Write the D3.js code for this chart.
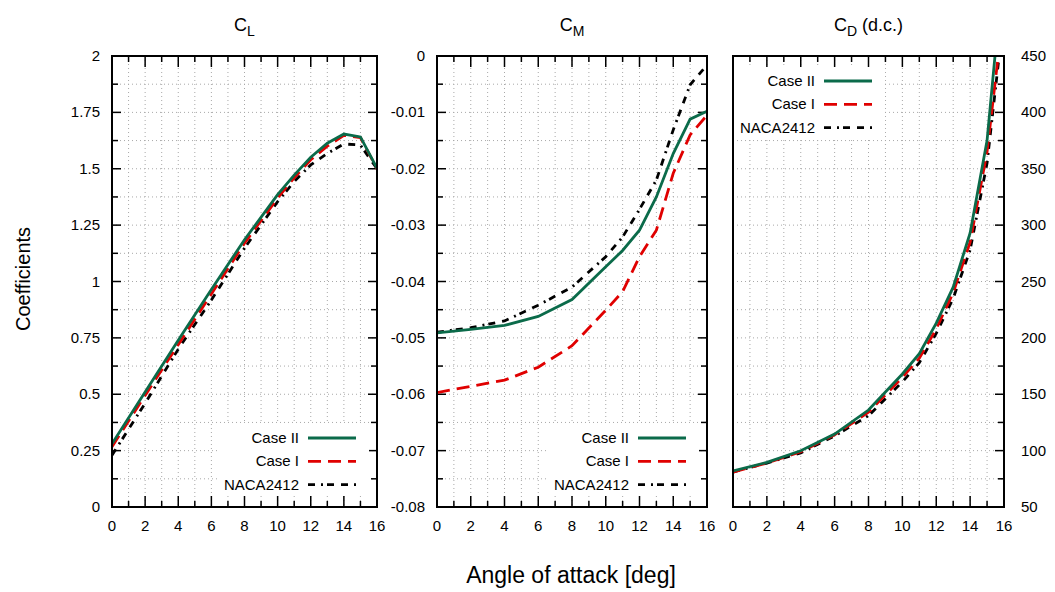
<!DOCTYPE html>
<html>
<head>
<meta charset="utf-8">
<script src="https://cdn.jsdelivr.net/npm/d3@7"></script>
<style>
  body { margin: 0; background: #fff; }
  text { font-family: "Liberation Sans", Arial, sans-serif; fill: #000; }
</style>
</head>
<body>
<svg id="chart" width="1055" height="592"></svg>
<script>
// angle of attack, deg
var angles = [0, 2, 4, 6, 8, 10, 11, 12, 13, 14, 15, 16];

var clCase2 = [0.28, 0.51, 0.74, 0.965, 1.185, 1.385, 1.472, 1.551, 1.613, 1.654, 1.641, 1.502];
var clCase1 = [0.267, 0.495, 0.72, 0.945, 1.17, 1.37, 1.46, 1.54, 1.60, 1.648, 1.638, 1.50];
var clNaca  = [0.23, 0.46, 0.70, 0.918, 1.148, 1.354, 1.443, 1.517, 1.568, 1.61, 1.605, 1.50];

var cmCase2 = [-0.0491, -0.0485, -0.0478, -0.0462, -0.0432, -0.0374, -0.0345, -0.0309, -0.025, -0.0173, -0.0112, -0.0098];
var cmCase1 = [-0.0597, -0.0586, -0.0575, -0.0552, -0.0514, -0.0451, -0.0418, -0.0356, -0.0309, -0.0208, -0.014, -0.0105];
var cmNaca  = [-0.049, -0.0482, -0.047, -0.0442, -0.041, -0.0356, -0.0321, -0.0272, -0.022, -0.0131, -0.0051, -0.0016];

var cdCase2 = [82, 89.6, 99.9, 114.7, 136, 168, 186, 213, 245, 293, 375, 535];
var cdCase1 = [81, 89, 99, 114, 134, 165, 182, 208, 240, 285, 365, 494];
var cdNaca  = [81, 89, 98, 113, 131, 161, 178, 204, 235, 278, 355, 488];

var seriesNames = ["Case II", "Case I", "NACA2412"];
var seriesColors = ["#0b6b4a", "#e00000", "#000000"];
var seriesDash = [null, "13,7", "7,6,2,4,7,7"];

var xTicks = d3.range(0, 17, 2);
var xMinor = d3.range(0, 17, 1);

var svg = d3.select("#chart");
var plotTop = 56, plotBottom = 507;

var panels = [
  {title: "C", sub: "L", tail: "", left: 112, right: 377, domain: [0, 2],
   ticks: d3.range(0, 2.001, 0.25), minor: d3.range(0, 2.001, 0.125),
   fmt: function(d) { return String(+d.toFixed(3)); },
   data: [clCase2, clCase1, clNaca], side: "left", legend: "br"},
  {title: "C", sub: "M", tail: "", left: 437, right: 707, domain: [-0.08, 0],
   ticks: d3.range(-0.08, 0.0001, 0.01), minor: d3.range(-0.08, 0.0001, 0.005),
   fmt: function(d) { var v = +d.toFixed(3); return v === 0 ? "0" : String(v); },
   data: [cmCase2, cmCase1, cmNaca], side: "left", legend: "br"},
  {title: "C", sub: "D", tail: " (d.c.)", left: 733, right: 1004, domain: [50, 450],
   ticks: d3.range(50, 451, 50), minor: d3.range(50, 451, 25),
   fmt: function(d) { return String(d); },
   data: [cdCase2, cdCase1, cdNaca], side: "right", legend: "tl"}
];

panels.forEach(function(p, pi) {
  var x = d3.scaleLinear().domain([0, 16]).range([p.left, p.right]);
  var y = d3.scaleLinear().domain(p.domain).range([plotBottom, plotTop]);
  var g = svg.append("g");

  // grid
  g.selectAll(".gx").data(xMinor.slice(1, -1)).join("line")
    .attr("x1", d => x(d)).attr("x2", d => x(d))
    .attr("y1", plotTop).attr("y2", plotBottom)
    .attr("stroke", "#a8a8a8").attr("stroke-width", 1).attr("stroke-dasharray", "1,3");
  g.selectAll(".gy").data(p.minor.slice(1, -1)).join("line")
    .attr("x1", p.left).attr("x2", p.right)
    .attr("y1", d => y(d)).attr("y2", d => y(d))
    .attr("stroke", "#a8a8a8").attr("stroke-width", 1).attr("stroke-dasharray", "1,3");

  // x ticks, bottom and top
  xMinor.forEach(function(d) {
    var len = d % 2 === 0 ? 11 : 6;
    g.append("line").attr("x1", x(d)).attr("x2", x(d))
      .attr("y1", plotBottom).attr("y2", plotBottom - len).attr("stroke", "#000").attr("stroke-width", 1.5);
    g.append("line").attr("x1", x(d)).attr("x2", x(d))
      .attr("y1", plotTop).attr("y2", plotTop + len).attr("stroke", "#000").attr("stroke-width", 1.5);
  });
  g.selectAll(".xl").data(xTicks).join("text")
    .attr("x", d => x(d)).attr("y", 531)
    .attr("text-anchor", "middle").attr("font-size", 15)
    .text(d => d);

  // y ticks
  var majors = p.ticks.map(d => +d.toFixed(4));
  p.minor.forEach(function(d) {
    var isMajor = majors.indexOf(+d.toFixed(4)) >= 0;
    var len = isMajor ? 9 : 6;
    if (p.side === "left") {
      g.append("line").attr("x1", p.left).attr("x2", p.left + len)
        .attr("y1", y(d)).attr("y2", y(d)).attr("stroke", "#000").attr("stroke-width", 1.5);
    }
    g.append("line").attr("x1", p.right).attr("x2", p.right - len)
      .attr("y1", y(d)).attr("y2", y(d)).attr("stroke", "#000").attr("stroke-width", 1.5);
  });
  g.selectAll(".yl").data(p.ticks).join("text")
    .attr("x", p.side === "left" ? p.left - 12 : p.right + 17)
    .attr("y", d => y(d) + 5)
    .attr("text-anchor", p.side === "left" ? "end" : "start")
    .attr("font-size", 15)
    .text(p.fmt);

  // curves
  var clipId = "clip" + pi;
  svg.append("clipPath").attr("id", clipId).append("rect")
    .attr("x", p.left).attr("y", plotTop).attr("width", p.right - p.left).attr("height", plotBottom - plotTop);
  var line = d3.line().x(d => x(d[0])).y(d => y(d[1]));
  [2, 1, 0].forEach(function(si) {
    g.append("path")
      .datum(angles.map((a, i) => [a, p.data[si][i]]))
      .attr("d", line)
      .attr("clip-path", "url(#" + clipId + ")")
      .attr("fill", "none")
      .attr("stroke", seriesColors[si])
      .attr("stroke-width", 2.8)
      .attr("stroke-dasharray", seriesDash[si]);
  });

  // legend
  var lg = g.append("g");
  var textEnd, lineX1, lineX2, rowY;
  if (p.legend === "br") {
    textEnd = p.right - 78; rowY = 438;
  } else {
    textEnd = p.left + 82; rowY = 81;
  }
  lineX1 = textEnd + 9; lineX2 = textEnd + 57;
  lg.append("rect")
    .attr("x", textEnd - 80).attr("y", rowY - 14)
    .attr("width", 150).attr("height", 70)
    .attr("fill", "#fff");
  seriesNames.forEach(function(n, si) {
    var yy = rowY + si * 23.3;
    lg.append("text").attr("x", textEnd).attr("y", yy + 5)
      .attr("text-anchor", "end").attr("font-size", 15).text(n);
    lg.append("line").attr("x1", lineX1).attr("x2", lineX2)
      .attr("y1", yy).attr("y2", yy)
      .attr("stroke", seriesColors[si]).attr("stroke-width", 2.8)
      .attr("stroke-dasharray", seriesDash[si]);
  });

  // frame
  g.append("rect").attr("x", p.left).attr("y", plotTop)
    .attr("width", p.right - p.left).attr("height", plotBottom - plotTop)
    .attr("fill", "none").attr("stroke", "#000").attr("stroke-width", 2);

  // title
  var t = svg.append("text").attr("x", (p.left + p.right) / 2).attr("y", 31)
    .attr("text-anchor", "middle").attr("font-size", 18);
  t.append("tspan").text(p.title);
  t.append("tspan").attr("font-size", 14).attr("dy", 5).text(p.sub);
  if (p.tail) t.append("tspan").attr("dy", -5).text(p.tail);
});

svg.append("text")
  .attr("transform", "translate(30,279) rotate(-90)")
  .attr("text-anchor", "middle").attr("font-size", 20)
  .text("Coefficients");

svg.append("text")
  .attr("x", 571).attr("y", 583)
  .attr("text-anchor", "middle").attr("font-size", 23)
  .text("Angle of attack [deg]");
</script>
</body>
</html>
